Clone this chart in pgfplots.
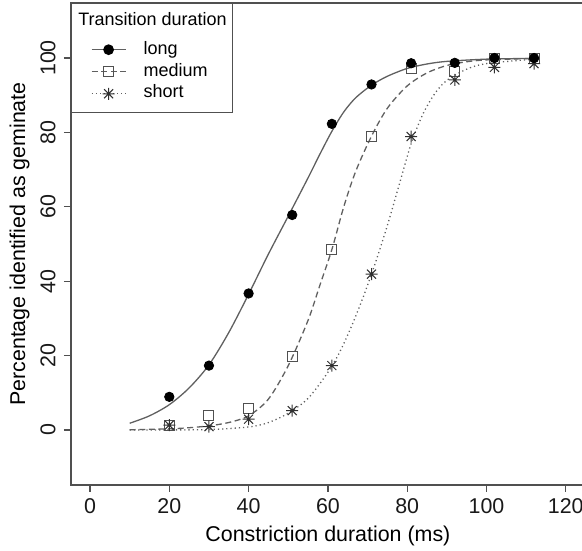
\documentclass[border=0pt]{standalone}
\usepackage{fontspec}
\setmainfont{Liberation Sans}
\usepackage{pgfplots}
\usepackage{pgfplotstable}
\pgfplotsset{compat=1.18}
\definecolor{boxc}{HTML}{505050}
\definecolor{curvec}{HTML}{606060}
\definecolor{sqc}{HTML}{505050}
\definecolor{astc}{HTML}{303030}
\pgfdeclareplotmark{rast}{%
  \pgfpathmoveto{\pgfqpoint{-\pgfplotmarksize}{0pt}}\pgfpathlineto{\pgfqpoint{\pgfplotmarksize}{0pt}}%
  \pgfpathmoveto{\pgfqpoint{0pt}{-\pgfplotmarksize}}\pgfpathlineto{\pgfqpoint{0pt}{\pgfplotmarksize}}%
  \pgfpathmoveto{\pgfqpoint{-0.75\pgfplotmarksize}{-0.75\pgfplotmarksize}}\pgfpathlineto{\pgfqpoint{0.75\pgfplotmarksize}{0.75\pgfplotmarksize}}%
  \pgfpathmoveto{\pgfqpoint{-0.75\pgfplotmarksize}{0.75\pgfplotmarksize}}\pgfpathlineto{\pgfqpoint{0.75\pgfplotmarksize}{-0.75\pgfplotmarksize}}%
  \pgfusepathqstroke}

\pgfplotstableread{
x y
20 8.9
30 17.3
40 36.7
51 57.8
61 82.3
71 92.9
81 98.6
92 98.7
102 100
112 100
}\longpts
\pgfplotstableread{
x y
20 1.3
30 4.0
40 5.8
51 19.7
61 48.5
71 78.9
81 97.3
92 96.5
102 99.8
112 99.8
}\medpts
\pgfplotstableread{
x y
20 1.3
30 0.9
40 2.9
51 5.2
61 17.3
71 41.9
81 78.9
92 94.1
102 97.5
112 98.5
}\shortpts
\pgfplotstableread{
x y
10 1.8
15 3.8
20 6.8
25 11.3
30 17.5
35 26.2
40 36.5
45 47.3
50 57.5
55 67.8
58 74.2
61 80.3
64 85.5
67 89.3
71 92.7
75 95.1
80 97.2
85 98.4
90 99.1
100 99.7
112 99.9
}\longcurve
\pgfplotstableread{
x y
10 0.05
20 0.3
25 0.6
30 1.1
35 2.0
40 3.8
45 8.3
50 17.3
55 29.5
58 39
61 48.5
64 60
67 69.5
71 79
75 86.5
80 92.5
85 96
90 98
95 99
100 99.5
112 99.9
}\medcurve
\pgfplotstableread{
x y
10 0
20 0.02
30 0.1
40 0.8
45 2
50 4.5
55 8.5
60 15.5
63 21
66 28
69 36
72 45
75 55
78 66
81 77
84 85
87 90.5
90 94
95 97
100 98.5
112 99.7
}\shortcurve

\newcommand\lstrut{\rule[-2pt]{0pt}{8.85pt}}

\begin{document}
\begin{tikzpicture}
\begin{axis}[
  scale only axis, width=256.9pt, height=241pt,
  xmin=-4.8, xmax=124.8, ymin=-14.8, ymax=114.8,
  xtick={0,20,40,60,80,100,120}, ytick={0,20,40,60,80,100},
  tick align=outside, tick pos=left,
  major tick length=3.5pt,
  axis line style={draw=boxc, line width=0.6pt},
  every tick/.style={draw=boxc, line width=0.6pt},
  /pgf/number format/assume math mode=true,
  tick label style={font=\fontsize{10.7}{12.8}\selectfont, text=black!90},
  xticklabel style={inner sep=0pt, anchor=north, yshift=-3pt},
  yticklabel style={rotate=90, anchor=south, inner sep=0pt},
  yticklabel shift=4pt,
  label style={font=\fontsize{10.7}{12.8}\selectfont, inner sep=0pt},
  xlabel={Constriction duration (ms)},
  ylabel={Percentage identified as geminate},
  xlabel style={at={(axis description cs:0.5,0)}, anchor=north, yshift=-20.5pt},
  ylabel style={at={(axis description cs:-0.0798,0.5)}, anchor=south, rotate=0},
  legend cell align=left,
  legend style={at={(axis description cs:0,1)}, anchor=north west,
    draw=boxc, line width=0.6pt, fill=white,
    font=\fontsize{9}{10.8}\selectfont,
    inner xsep=3pt, inner ysep=4.45pt,
    row sep=2pt, column sep=8.65pt,
    nodes={inner sep=0pt, text depth=, text height=}},
  legend image code/.code={%
    \path[draw=none] (0pt,0pt) -- (24pt,0pt);
    \draw[mark repeat=2,mark phase=2,#1] plot coordinates {(7pt,0pt)(15.5pt,0pt)(24pt,0pt)};},
]
\addlegendimage{empty legend}
\addlegendentry{\hspace*{-32.65pt}Transition duration\rule[-5.65pt]{0pt}{9.6pt}}
\addlegendimage{curvec, solid, line width=0.65pt, mark=*, mark size=2.35pt, mark options={solid, fill=black, draw=black}}
\addlegendentry{long\lstrut}
\addlegendimage{curvec, dash pattern=on 3pt off 1.8pt, line width=0.65pt, mark=square, mark size=2.5pt, mark options={solid, draw=sqc, line width=0.5pt}}
\addlegendentry{medium\lstrut}
\addlegendimage{curvec, dash pattern=on 0.6pt off 1.5pt, line width=0.65pt, mark=rast, mark size=3pt, mark options={solid, draw=astc, line width=0.5pt}}
\addlegendentry{short\rule[-3pt]{0pt}{8.85pt}}

\addplot[forget plot, smooth, curvec, line width=0.65pt] table[x=x,y=y] {\longcurve};
\addplot[forget plot, smooth, curvec, line width=0.65pt, dash pattern=on 3pt off 1.8pt] table[x=x,y=y] {\medcurve};
\addplot[forget plot, smooth, curvec, line width=0.65pt, dash pattern=on 0.6pt off 1.5pt] table[x=x,y=y] {\shortcurve};

\addplot[forget plot, only marks, mark=square, mark size=2.5pt, mark options={draw=sqc, line width=0.5pt}] table[x=x,y=y] {\medpts};
\addplot[forget plot, only marks, mark=rast, mark size=3pt, mark options={draw=astc, line width=0.5pt}] table[x=x,y=y] {\shortpts};
\addplot[forget plot, only marks, mark=*, mark size=2.35pt, mark options={fill=black, draw=black}] table[x=x,y=y] {\longpts};
\end{axis}
\pgfresetboundingbox
\useasboundingbox (-35.5pt,-32.5pt) rectangle (255.5pt,242.5pt);
\end{tikzpicture}
\end{document}
